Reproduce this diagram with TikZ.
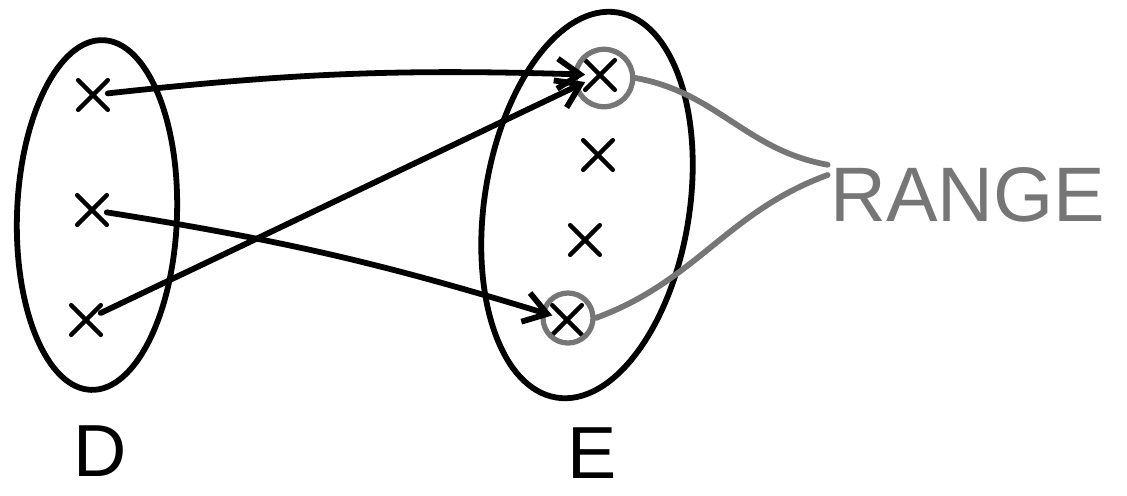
\documentclass[tikz,border=0pt]{standalone}
\usepackage{fontspec}
\setmainfont{Liberation Sans}
\usepackage{tikz}
\usetikzlibrary{shapes.geometric, shapes.misc, arrows.meta, positioning}
\definecolor{pengray}{RGB}{118,118,118}

\begin{document}
\begin{tikzpicture}[x=0.02cm, y=-0.02cm, line width=3.3pt, line cap=round, line join=round,
    xmark/.style={cross out, draw, line width=2.6pt, minimum size=0.5cm, inner sep=0pt},
    blob/.style={ellipse, draw},
    ring/.style={circle, draw=pengray, line width=3pt, minimum size=1.15cm, inner sep=0pt},
    bigtext/.style={font=\fontsize{42}{48}\selectfont, inner sep=0pt},
    pointer/.style={-{Straight Barb[length=4.5mm, width=6mm]}}]
            \useasboundingbox (0,0) rectangle (1127,495);
            % Domain set
            \node[blob, minimum width=3.2cm, minimum height=7cm, rotate=-2] (dset) at (97,215) {};
            \node[xmark] (d1) at (93,95) {};
            \node[xmark] (d2) at (92,210) {};
            \node[xmark] (d3) at (86,320) {};
            \node[bigtext, anchor=base] (dlabel) at (100,476) {D};
            % Codomain set
            \node[blob, minimum width=4.1cm, minimum height=7.8cm, rotate=-9] (eset) at (587,205) {};
            \node[xmark] (e1) at (600,75) {};
            \node[xmark] (e2) at (598,155) {};
            \node[xmark] (e3) at (585,240) {};
            \node[xmark] (e4) at (567,320) {};
            \node[bigtext, anchor=base] (elabel) at (592,478) {E};
            % Range
            \node[ring] (r1) at (604,78) {};
            \node[ring, minimum size=1cm] (r2) at (568,318) {};
            \node[bigtext, font=\fontsize{44}{50}\selectfont, text=pengray] (range) at (968,195) {RANGE};
            \draw[pengray] (r1.east) to[out=-10, in=170] (range.north west);
            \draw[pengray] (r2.east) to[out=20, in=200] ([yshift=0.4cm]range.west);
            % Arrows
            \draw[pointer] (d1) to[bend left=4] (e1);
            \draw[pointer] (d3) -- (e1);
            \draw[pointer] (d2) to[bend left=4] (e4);
        \end{tikzpicture}
\end{document}
